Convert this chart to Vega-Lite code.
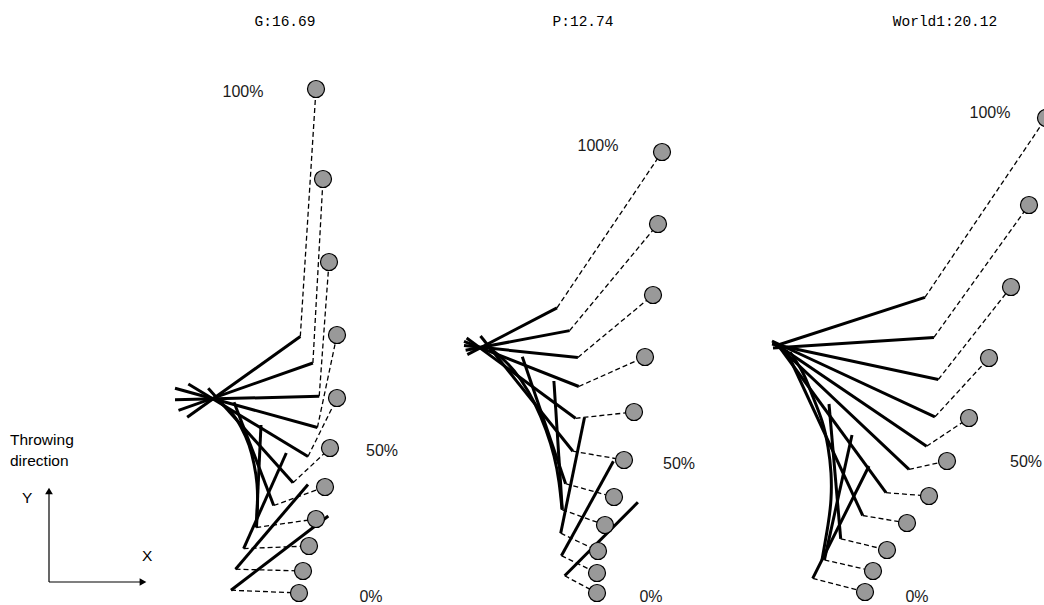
{
  "$schema": "https://vega.github.io/schema/vega-lite/v6.json",
  "width": 1044,
  "height": 605,
  "autosize": {"type": "none"},
  "padding": 0,
  "background": "white",
  "config": {"view": {"stroke": null}},
  "datasets": {
    "frames": [
      {"panel": "G", "frame": 1, "ax": 187.2, "ay": 417.3, "ex": 300.3, "ey": 336.5, "bx": 316, "by": 89},
      {"panel": "G", "frame": 2, "ax": 178.5, "ay": 410.3, "ex": 312.9, "ey": 363, "bx": 323, "by": 179},
      {"panel": "G", "frame": 3, "ax": 175, "ay": 399.8, "ex": 319.2, "ey": 396.3, "bx": 329, "by": 262},
      {"panel": "G", "frame": 4, "ax": 175, "ay": 388.3, "ex": 317.4, "ey": 427.5, "bx": 337, "by": 335},
      {"panel": "G", "frame": 5, "ax": 188.3, "ay": 384, "ex": 308, "ey": 456.5, "bx": 337, "by": 398},
      {"panel": "G", "frame": 6, "ax": 208.2, "ay": 388.3, "ex": 293, "ey": 482.8, "bx": 330, "by": 448},
      {"panel": "G", "frame": 7, "ax": 234, "ay": 402.3, "ex": 273.7, "ey": 505.5, "bx": 325, "by": 487},
      {"panel": "G", "frame": 8, "ax": 261, "ay": 425, "ex": 256.2, "ey": 527.5, "bx": 316, "by": 519},
      {"panel": "G", "frame": 9, "ax": 286.3, "ay": 453, "ex": 243.6, "ey": 548.6, "bx": 309, "by": 546},
      {"panel": "G", "frame": 10, "ax": 308, "ay": 484.5, "ex": 235.5, "ey": 569.2, "bx": 303, "by": 571},
      {"panel": "G", "frame": 11, "ax": 328.3, "ay": 516, "ex": 231, "ey": 590.2, "bx": 299, "by": 593},
      {"panel": "P", "frame": 1, "ax": 467.3, "ay": 354.7, "ex": 557, "ey": 307.8, "bx": 662, "by": 152},
      {"panel": "P", "frame": 2, "ax": 465.6, "ay": 350.3, "ex": 569.6, "ey": 330.6, "bx": 658, "by": 224},
      {"panel": "P", "frame": 3, "ax": 464, "ay": 345.6, "ex": 577.9, "ey": 357.4, "bx": 653, "by": 295},
      {"panel": "P", "frame": 4, "ax": 464, "ay": 341.3, "ex": 578.8, "ey": 386.5, "bx": 645, "by": 357},
      {"panel": "P", "frame": 5, "ax": 466.6, "ay": 338, "ex": 575.5, "ey": 418.3, "bx": 634, "by": 412},
      {"panel": "P", "frame": 6, "ax": 480.5, "ay": 336, "ex": 572.9, "ey": 451.2, "bx": 624, "by": 460},
      {"panel": "P", "frame": 7, "ax": 522.3, "ay": 356.7, "ex": 565.6, "ey": 483.7, "bx": 614, "by": 497},
      {"panel": "P", "frame": 8, "ax": 553.9, "ay": 381, "ex": 562.3, "ey": 509.8, "bx": 605, "by": 525},
      {"panel": "P", "frame": 9, "ax": 584.5, "ay": 417.5, "ex": 560.7, "ey": 533.2, "bx": 598, "by": 551},
      {"panel": "P", "frame": 10, "ax": 613.4, "ay": 461.3, "ex": 561.4, "ey": 555.7, "bx": 597, "by": 573},
      {"panel": "P", "frame": 11, "ax": 637.9, "ay": 502.3, "ex": 564.7, "ey": 575.8, "bx": 597, "by": 593},
      {"panel": "World1", "frame": 1, "ax": 775, "ay": 346, "ex": 924.9, "ey": 297.4, "bx": 1046, "by": 118},
      {"panel": "World1", "frame": 2, "ax": 773, "ay": 348, "ex": 933.9, "ey": 337.4, "bx": 1029, "by": 205},
      {"panel": "World1", "frame": 3, "ax": 772, "ay": 344, "ex": 938.3, "ey": 379.5, "bx": 1011, "by": 287},
      {"panel": "World1", "frame": 4, "ax": 772, "ay": 341, "ex": 934.9, "ey": 416.9, "bx": 989, "by": 358},
      {"panel": "World1", "frame": 5, "ax": 773, "ay": 342, "ex": 926.6, "ey": 446.3, "bx": 969, "by": 418},
      {"panel": "World1", "frame": 6, "ax": 775, "ay": 343, "ex": 909, "ey": 469.4, "bx": 947, "by": 461},
      {"panel": "World1", "frame": 7, "ax": 778, "ay": 345, "ex": 886, "ey": 492.7, "bx": 929, "by": 496},
      {"panel": "World1", "frame": 8, "ax": 786, "ay": 350, "ex": 862.7, "ey": 515.5, "bx": 907, "by": 523},
      {"panel": "World1", "frame": 9, "ax": 829, "ay": 404, "ex": 840.7, "ey": 538.8, "bx": 887, "by": 550},
      {"panel": "World1", "frame": 10, "ax": 852, "ay": 435, "ex": 824.4, "ey": 559.9, "bx": 873, "by": 571},
      {"panel": "World1", "frame": 11, "ax": 869, "ay": 466, "ex": 812.7, "ey": 578.3, "bx": 865, "by": 592}
    ],
    "curves": [
      {"panel": "G", "k": 1, "x": 214, "y": 398},
      {"panel": "G", "k": 2, "x": 230, "y": 411},
      {"panel": "G", "k": 3, "x": 241, "y": 427},
      {"panel": "G", "k": 4, "x": 249, "y": 445},
      {"panel": "G", "k": 5, "x": 254, "y": 464},
      {"panel": "G", "k": 6, "x": 257, "y": 484},
      {"panel": "G", "k": 7, "x": 257.5, "y": 505},
      {"panel": "G", "k": 8, "x": 256.5, "y": 527},
      {"panel": "P", "k": 1, "x": 487, "y": 346},
      {"panel": "P", "k": 2, "x": 505, "y": 361},
      {"panel": "P", "k": 3, "x": 521, "y": 380},
      {"panel": "P", "k": 4, "x": 535, "y": 404},
      {"panel": "P", "k": 5, "x": 546, "y": 430},
      {"panel": "P", "k": 6, "x": 554, "y": 456},
      {"panel": "P", "k": 7, "x": 559, "y": 482},
      {"panel": "P", "k": 8, "x": 562, "y": 509},
      {"panel": "World1", "k": 1, "x": 790, "y": 352},
      {"panel": "World1", "k": 2, "x": 803, "y": 373},
      {"panel": "World1", "k": 3, "x": 813, "y": 397},
      {"panel": "World1", "k": 4, "x": 822, "y": 421},
      {"panel": "World1", "k": 5, "x": 828, "y": 447},
      {"panel": "World1", "k": 6, "x": 831, "y": 473},
      {"panel": "World1", "k": 7, "x": 831, "y": 499},
      {"panel": "World1", "k": 8, "x": 828, "y": 525},
      {"panel": "World1", "k": 9, "x": 822, "y": 560}
    ],
    "titles": [
      {"text": "G:16.69", "x": 285, "y": 22},
      {"text": "P:12.74", "x": 583, "y": 22},
      {"text": "World1:20.12", "x": 945, "y": 22}
    ],
    "pct": [
      {"text": "100%", "x": 243, "y": 92},
      {"text": "50%", "x": 382, "y": 451},
      {"text": "0%", "x": 371, "y": 597},
      {"text": "100%", "x": 598, "y": 146},
      {"text": "50%", "x": 679, "y": 464},
      {"text": "0%", "x": 651, "y": 597},
      {"text": "100%", "x": 990, "y": 113},
      {"text": "50%", "x": 1026, "y": 462},
      {"text": "0%", "x": 917, "y": 597}
    ],
    "notes": [
      {"text": "Throwing", "x": 10, "y": 440},
      {"text": "direction", "x": 10, "y": 461},
      {"text": "Y", "x": 22, "y": 498},
      {"text": "X", "x": 142, "y": 556}
    ],
    "arrows": [
      {"dir": "up", "x1": 49, "y1": 582, "x2": 49, "y2": 494, "hx": 49, "hy": 491},
      {"dir": "right", "x1": 49, "y1": 582, "x2": 140, "y2": 582, "hx": 143, "hy": 582}
    ]
  },
  "layer": [
    {
      "data": {"name": "arrows"},
      "mark": {"type": "rule", "color": "black", "strokeWidth": 1.2},
      "encoding": {
        "x": {"field": "x1", "type": "quantitative", "scale": {"domain": [0, 1044], "nice": false, "zero": false}, "axis": null},
        "y": {"field": "y1", "type": "quantitative", "scale": {"domain": [0, 605], "nice": false, "zero": false, "reverse": true}, "axis": null},
        "x2": {"field": "x2"},
        "y2": {"field": "y2"}
      }
    },
    {
      "data": {"name": "arrows"},
      "mark": {"type": "point", "filled": true, "color": "black", "size": 60, "opacity": 1},
      "encoding": {
        "x": {"field": "hx", "type": "quantitative"},
        "y": {"field": "hy", "type": "quantitative"},
        "shape": {"field": "dir", "type": "nominal", "scale": {"domain": ["up", "right"], "range": ["triangle-up", "triangle-right"]}, "legend": null}
      }
    },
    {
      "data": {"name": "frames"},
      "mark": {"type": "rule", "color": "black", "strokeWidth": 1.3, "strokeDash": [5, 3]},
      "encoding": {
        "x": {"field": "ex", "type": "quantitative"},
        "y": {"field": "ey", "type": "quantitative"},
        "x2": {"field": "bx"},
        "y2": {"field": "by"}
      }
    },
    {
      "data": {"name": "curves"},
      "mark": {"type": "line", "color": "black", "strokeWidth": 3, "interpolate": "natural"},
      "encoding": {
        "x": {"field": "x", "type": "quantitative"},
        "y": {"field": "y", "type": "quantitative"},
        "order": {"field": "k", "type": "quantitative"},
        "detail": {"field": "panel", "type": "nominal"}
      }
    },
    {
      "data": {"name": "frames"},
      "mark": {"type": "rule", "color": "black", "strokeWidth": 3},
      "encoding": {
        "x": {"field": "ax", "type": "quantitative"},
        "y": {"field": "ay", "type": "quantitative"},
        "x2": {"field": "ex"},
        "y2": {"field": "ey"}
      }
    },
    {
      "data": {"name": "frames"},
      "mark": {"type": "point", "shape": "circle", "filled": true, "fill": "#999999", "stroke": "black", "strokeWidth": 1.2, "size": 290, "opacity": 1},
      "encoding": {
        "x": {"field": "bx", "type": "quantitative"},
        "y": {"field": "by", "type": "quantitative"}
      }
    },
    {
      "data": {"name": "titles"},
      "mark": {"type": "text", "font": "Liberation Mono", "fontSize": 14.5, "align": "center", "baseline": "middle", "color": "black"},
      "encoding": {
        "x": {"field": "x", "type": "quantitative"},
        "y": {"field": "y", "type": "quantitative"},
        "text": {"field": "text"}
      }
    },
    {
      "data": {"name": "pct"},
      "mark": {"type": "text", "font": "Liberation Sans", "fontSize": 16, "align": "center", "baseline": "middle", "color": "#1a1a1a"},
      "encoding": {
        "x": {"field": "x", "type": "quantitative"},
        "y": {"field": "y", "type": "quantitative"},
        "text": {"field": "text"}
      }
    },
    {
      "data": {"name": "notes"},
      "mark": {"type": "text", "font": "Liberation Sans", "fontSize": 15.5, "align": "left", "baseline": "middle", "color": "black"},
      "encoding": {
        "x": {"field": "x", "type": "quantitative"},
        "y": {"field": "y", "type": "quantitative"},
        "text": {"field": "text"}
      }
    }
  ]
}
